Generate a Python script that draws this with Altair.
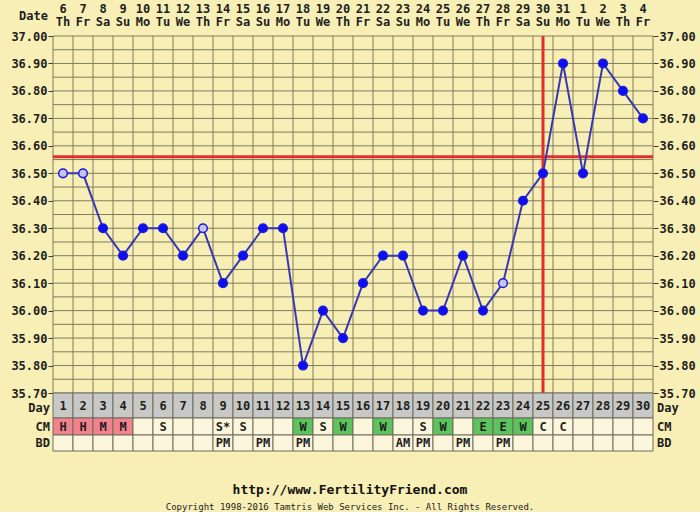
import altair as alt
import pandas as pd

# ---- data ----
days = list(range(1, 31))
dates = ["6", "7", "8", "9", "10", "11", "12", "13", "14", "15", "16", "17", "18", "19", "20",
         "21", "22", "23", "24", "25", "26", "27", "28", "29", "30", "31", "1", "2", "3", "4"]
weekdays = ["Th", "Fr", "Sa", "Su", "Mo", "Tu", "We", "Th", "Fr", "Sa", "Su", "Mo", "Tu", "We", "Th",
            "Fr", "Sa", "Su", "Mo", "Tu", "We", "Th", "Fr", "Sa", "Su", "Mo", "Tu", "We", "Th", "Fr"]
temps = [36.50, 36.50, 36.30, 36.20, 36.30, 36.30, 36.20, 36.30, 36.10, 36.20,
         36.30, 36.30, 35.80, 36.00, 35.90, 36.10, 36.20, 36.20, 36.00, 36.00,
         36.20, 36.00, 36.10, 36.40, 36.50, 36.90, 36.50, 36.90, 36.80, 36.70]
open_days = [1, 2, 8, 23]
cm = ["H", "H", "M", "M", "", "S", "", "", "S*", "S", "", "", "W", "S", "W",
      "", "W", "", "S", "W", "", "E", "E", "W", "C", "C", "", "", "", ""]
bd = ["", "", "", "", "", "", "", "", "PM", "", "PM", "", "PM", "", "",
      "", "", "AM", "PM", "", "PM", "", "PM", "", "", "", "", "", "", ""]
coverline = [36.56]
ovulation_day = [25]
y_ticks = [35.70, 35.80, 35.90, 36.00, 36.10, 36.20, 36.30, 36.40, 36.50, 36.60,
           36.70, 36.80, 36.90, 37.00]
grid_temps = [35.70, 35.75, 35.80, 35.85, 35.90, 35.95, 36.00, 36.05, 36.10, 36.15,
              36.20, 36.25, 36.30, 36.35, 36.40, 36.45, 36.50, 36.55, 36.60, 36.65,
              36.70, 36.75, 36.80, 36.85, 36.90, 36.95, 37.00]
grid_days = [0.5, 1.5, 2.5, 3.5, 4.5, 5.5, 6.5, 7.5, 8.5, 9.5, 10.5, 11.5, 12.5, 13.5, 14.5,
             15.5, 16.5, 17.5, 18.5, 19.5, 20.5, 21.5, 22.5, 23.5, 24.5, 25.5, 26.5, 27.5,
             28.5, 29.5, 30.5]
row_labels = ["Day", "CM", "BD"]

# ---- styling ----
FONT = "DejaVu Sans Mono"
BG = "#f7efb5"
GRID = "#807c5e"
RED = "#e0302c"
PINK = "#f2828e"
GREEN = "#5cc45c"
CREAM = "#fcf6dc"
GRAY = "#c8c8c6"
CELL_STROKE = "#6e6c5c"
ROW_Y = [369.5, 390.5, 407]
ROW_LABEL_Y = [371.5, 390.5, 407]


def cm_color(c):
    if c in ("H", "M"):
        return PINK
    if c in ("W", "E"):
        return GREEN
    return CREAM


df = pd.DataFrame({
    "day": days,
    "date": dates,
    "wd": weekdays,
    "temp": temps,
    "kind": ["open" if d in open_days else "filled" for d in days],
    "cm": cm,
    "bd": bd,
    "cmcolor": [cm_color(c) for c in cm],
    "daylabel": [str(d) for d in days],
})

xs = alt.Scale(domain=[0.5, 30.5], nice=False, zero=False)
ys = alt.Scale(domain=[35.70, 37.00], nice=False, zero=False)

base = alt.Chart(df)


def X(field="day:Q"):
    return alt.X(field, scale=xs, axis=None)


# gridlines
hgrid = alt.Chart(pd.DataFrame({"g": grid_temps})).mark_rule(color=GRID, strokeWidth=1).encode(
    y=alt.Y("g:Q", scale=ys, axis=None))
vgrid = alt.Chart(pd.DataFrame({"g": grid_days})).mark_rule(color=GRID, strokeWidth=1).encode(
    x=alt.X("g:Q", scale=xs, axis=None))

axis_style = dict(values=y_ticks, format=".2f", grid=False, domain=False,
                  ticks=True, tickSize=5, tickColor="#3a3a2a", labelFont=FONT,
                  labelFontWeight="bold", labelFontSize=12, labelColor="#1e1e1e",
                  labelPadding=1, title=None)
left_axis = alt.Axis(orient="left", **axis_style)
right_axis = alt.Axis(orient="right", **axis_style)

cover = alt.Chart(pd.DataFrame({"cover": coverline})).mark_rule(color=RED, strokeWidth=3).encode(
    y=alt.Y("cover:Q", scale=ys, axis=right_axis))
ovu = alt.Chart(pd.DataFrame({"ov": ovulation_day})).mark_rule(color=RED, strokeWidth=3).encode(
    x=alt.X("ov:Q", scale=xs, axis=None))

line = base.mark_line(color="#3838b4", strokeWidth=2).encode(
    x=X(), y=alt.Y("temp:Q", scale=ys, axis=None))
points = base.mark_point(shape="circle", size=75, strokeWidth=1.5, opacity=1).encode(
    x=X(),
    y=alt.Y("temp:Q", scale=ys, axis=left_axis),
    fill=alt.Fill("kind:N", scale=alt.Scale(domain=["open", "filled"], range=["#c4c4ee", "#0e0ef0"]), legend=None),
    stroke=alt.value("#1a1ae0"),
)

tstyle = dict(font=FONT, fontWeight="bold", fontSize=12, color="#1e1e1e", baseline="middle")

# date header
date_txt = base.mark_text(**tstyle).encode(x=X(), y=alt.value(-27), text="date:N")
wd_txt = base.mark_text(**tstyle).encode(x=X(), y=alt.value(-14), text="wd:N")
date_lbl = alt.Chart(pd.DataFrame({"t": ["Date"]})).mark_text(align="right", **tstyle).encode(
    x=alt.value(-5), y=alt.value(-20), text="t:N")

# table
tb = base.transform_calculate(x1="datum.day - 0.5", x2="datum.day + 0.5")
day_cells = tb.mark_rect(stroke=CELL_STROKE, strokeWidth=1, fill=GRAY).encode(
    x=alt.X("x1:Q", scale=xs, axis=None), x2="x2:Q", y=alt.value(357), y2=alt.value(382))
cm_cells = tb.mark_rect(stroke=CELL_STROKE, strokeWidth=1).encode(
    x=alt.X("x1:Q", scale=xs, axis=None), x2="x2:Q", y=alt.value(382), y2=alt.value(399),
    fill=alt.Fill("cmcolor:N", scale=None))
bd_cells = tb.mark_rect(stroke=CELL_STROKE, strokeWidth=1, fill=CREAM).encode(
    x=alt.X("x1:Q", scale=xs, axis=None), x2="x2:Q", y=alt.value(399), y2=alt.value(415))

day_txt = base.mark_text(**tstyle).encode(x=X(), y=alt.value(ROW_Y[0]), text="daylabel:N")
cm_txt = base.mark_text(**tstyle).encode(x=X(), y=alt.value(ROW_Y[1]), text="cm:N")
bd_txt = base.mark_text(**tstyle).encode(x=X(), y=alt.value(ROW_Y[2]), text="bd:N")

row_layers = []
for lbl, ry in zip(row_labels, ROW_LABEL_Y):
    d = pd.DataFrame({"t": [lbl]})
    row_layers.append(alt.Chart(d).mark_text(align="right", **tstyle).encode(
        x=alt.value(-3), y=alt.value(ry), text="t:N"))
    row_layers.append(alt.Chart(d).mark_text(align="left", **tstyle).encode(
        x=alt.value(604), y=alt.value(ry), text="t:N"))

footer1 = alt.Chart(pd.DataFrame({"t": ["http://www.FertilityFriend.com"]})).mark_text(
    font=FONT, fontWeight="bold", fontSize=13, color="#111111", align="center", baseline="middle").encode(
    x=alt.value(297), y=alt.value(454), text="t:N")
footer2 = alt.Chart(pd.DataFrame({"t": ["Copyright 1998-2016 Tamtris Web Services Inc. - All Rights Reserved."]})).mark_text(
    font=FONT, fontSize=9, color="#222222", align="center", baseline="middle").encode(
    x=alt.value(297), y=alt.value(471), text="t:N")

chart = alt.layer(
    hgrid, vgrid, cover, ovu, line, points,
    date_txt, wd_txt, date_lbl,
    day_cells, cm_cells, bd_cells, day_txt, cm_txt, bd_txt,
    *row_layers, footer1, footer2,
).resolve_axis(y="independent").resolve_scale(y="shared").properties(
    width=600, height=357,
    autosize=alt.AutoSizeParams(type="none"),
    padding={"left": 53, "top": 36, "right": 47, "bottom": 119},
    background=BG,
).configure_view(fill=BG, stroke=None)

chart.save("out.html", embed_options={"renderer": "svg", "actions": False})
